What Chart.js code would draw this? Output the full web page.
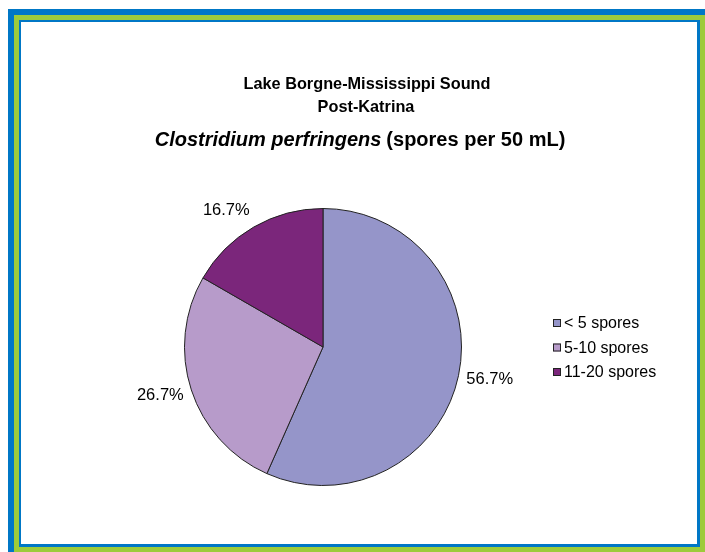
<!DOCTYPE html>
<html>
<head>
<meta charset="utf-8">
<script src="https://cdn.jsdelivr.net/npm/chart.js@4/dist/chart.umd.min.js"></script>
<style>
  html, body { margin: 0; padding: 0; background: #fff; width: 705px; height: 552px; overflow: hidden; }
  .b1 { position: absolute; left: 8px; top: 9px; width: 697px; height: 543px; background: #0077C6; }
  .b2 { position: absolute; left: 14px; top: 15px; width: 691px; height: 537px; background: #9DCB3A; }
  .b3 { position: absolute; left: 19px; top: 20px; width: 681px; height: 527px; background: #0077C6; }
  .b4 { position: absolute; left: 21px; top: 22px; width: 676px; height: 522px; background: #fff; }
  canvas { position: absolute; left: 0; top: 0; }
</style>
</head>
<body>
<div class="b1"></div><div class="b2"></div><div class="b3"></div><div class="b4"></div>
<canvas id="c" width="705" height="552"></canvas>
<script>
const categories = ['< 5 spores', '5-10 spores', '11-20 spores'];
const percentValues = [56.7, 26.7, 16.7];
const sliceColors = ['#9595C9', '#B79BCA', '#7B267B'];
const titleLines = ['Lake Borgne-Mississippi Sound', 'Post-Katrina'];
const titleItalic = 'Clostridium perfringens';
const titleRest = '(spores per 50 mL)';

const FONT = '"Liberation Sans", Arial, sans-serif';

const titlePlugin = {
  id: 'titlePlugin',
  afterDraw(chart) {
    const ctx = chart.ctx;
    ctx.save();
    ctx.fillStyle = '#000';
    ctx.textBaseline = 'alphabetic';
    ctx.textAlign = 'center';
    ctx.font = 'bold 16.3px ' + FONT;
    ctx.fillText(titleLines[0], 367, 89);
    ctx.fillText(titleLines[1], 366, 112);
    const big = 20;
    ctx.font = 'italic bold ' + big + 'px ' + FONT;
    const w1 = ctx.measureText(titleItalic).width + 5;
    ctx.font = 'bold ' + big + 'px ' + FONT;
    const w2 = ctx.measureText(titleRest).width;
    const start = 360 - (w1 + w2) / 2;
    ctx.textAlign = 'left';
    ctx.font = 'italic bold ' + big + 'px ' + FONT;
    ctx.fillText(titleItalic, start, 146);
    ctx.font = 'bold ' + big + 'px ' + FONT;
    ctx.fillText(titleRest, start + w1, 146);
    ctx.restore();
  }
};

const labelPlugin = {
  id: 'labelPlugin',
  afterDatasetsDraw(chart) {
    const ctx = chart.ctx;
    const meta = chart.getDatasetMeta(0);
    ctx.save();
    ctx.fillStyle = '#000';
    ctx.font = '16.5px ' + FONT;
    ctx.textAlign = 'center';
    ctx.textBaseline = 'middle';
    meta.data.forEach((arc, i) => {
      const p = arc.getProps(['x', 'y', 'startAngle', 'endAngle', 'outerRadius'], true);
      const mid = (p.startAngle + p.endAngle) / 2;
      const txt = percentValues[i].toFixed(1) + '%';
      const w = ctx.measureText(txt).width;
      const h = 22;
      const r = p.outerRadius + 8;
      const c = Math.cos(mid), s = Math.sin(mid);
      const x = p.x + c * r + Math.sign(c) * w / 2;
      const y = p.y + s * r + s * h / 2;
      ctx.fillText(txt, x, y);
    });
    ctx.restore();
  }
};

const legendPlugin = {
  id: 'legendPlugin',
  afterDraw(chart) {
    const ctx = chart.ctx;
    ctx.save();
    ctx.font = '16px ' + FONT;
    ctx.textBaseline = 'middle';
    ctx.textAlign = 'left';
    categories.forEach((c, i) => {
      const y = 323 + i * 24.5;
      ctx.fillStyle = sliceColors[i];
      ctx.fillRect(553, y - 4, 8, 8);
      ctx.strokeStyle = '#222';
      ctx.lineWidth = 1;
      ctx.strokeRect(553.5, y - 3.5, 7, 7);
      ctx.fillStyle = '#000';
      ctx.fillText(c, 564, y + 1);
    });
    ctx.restore();
  }
};

new Chart(document.getElementById('c'), {
  type: 'pie',
  data: {
    labels: categories,
    datasets: [{
      data: percentValues,
      backgroundColor: sliceColors,
      borderColor: '#222',
      borderWidth: 1
    }]
  },
  options: {
    responsive: false,
    animation: false,
    devicePixelRatio: 1,
    layout: { padding: { left: 184, right: 243, top: 208, bottom: 66 } },
    plugins: {
      legend: { display: false },
      title: { display: false },
      tooltip: { enabled: false }
    }
  },
  plugins: [titlePlugin, labelPlugin, legendPlugin]
});
</script>
</body>
</html>
